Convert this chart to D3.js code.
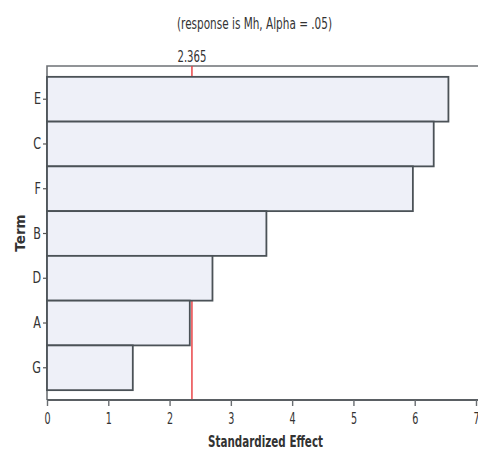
<!DOCTYPE html>
<html><head><meta charset="utf-8">
<script src="https://cdn.jsdelivr.net/npm/d3@7"></script>
<style>
html,body{margin:0;padding:0;background:#fff;}
svg{display:block;}
text{font-family:"DejaVu Sans",Verdana,sans-serif;fill:#333;}
</style></head>
<body>
<svg id="chart" width="478" height="452"></svg>
<script>
const terms = ["E","C","F","B","D","A","G"];
const effects = [6.55, 6.31, 5.97, 3.58, 2.70, 2.33, 1.40];
const xTicks = [0,1,2,3,4,5,6,7];
const critical = 2.365;
const titleText = "(response is Mh, Alpha = .05)";
const xLabel = "Standardized Effect";
const yLabel = "Term";

(function(){
const svg = d3.select("#chart");
const mLeft = 47, mRight = 476, mTop = 66, mBottom = 400;
const sx = 0.6;

const x = d3.scaleLinear().domain([0,7]).range([mLeft,mRight]);
const y = d3.scaleBand().domain(terms).range([mTop+1,mBottom]).paddingInner(0).paddingOuter(0.22);

// frame
svg.append("path")
  .attr("d", `M${mLeft},${mBottom}V${mTop}H${480}`)
  .attr("fill","none").attr("stroke","#6e7276").attr("stroke-width",1.6);

// critical line (under bars)
svg.append("line")
  .attr("x1",x(critical)).attr("x2",x(critical))
  .attr("y1",mTop).attr("y2",mBottom)
  .attr("stroke","#e8383a").attr("stroke-width",1.4);

// bars
svg.append("g").selectAll("rect").data(terms).join("rect")
  .attr("x", x(0))
  .attr("y", d => y(d))
  .attr("width", (d,i) => x(effects[i]) - x(0))
  .attr("height", y.bandwidth())
  .attr("fill","#eef0f8")
  .attr("stroke","#4b5257").attr("stroke-width",1.8);

// bottom axis
const gx = svg.append("g").attr("transform",`translate(0,${mBottom})`)
  .call(d3.axisBottom(x).tickValues(xTicks).tickFormat(d3.format("d")).tickSize(6).tickPadding(6.6));
gx.select(".domain").attr("d",`M${mLeft},0H480`).attr("stroke","#5a5f63").attr("stroke-width",2);
gx.selectAll(".tick line").attr("stroke","#6a6e72").attr("stroke-width",1.4);
gx.selectAll(".tick text").attr("font-size",16).attr("fill","#3a3a3a")
  .attr("font-family","'DejaVu Sans',sans-serif")
  .attr("transform",`scale(${sx},1)`);

// left axis
const gy = svg.append("g").attr("transform",`translate(${mLeft},0)`)
  .call(d3.axisLeft(y).tickSize(4).tickPadding(2));
gy.select(".domain").remove();
gy.selectAll(".tick line").attr("stroke","#555").attr("stroke-width",1.2);
gy.selectAll(".tick text").attr("font-size",16).attr("fill","#3a3a3a")
  .attr("font-family","'DejaVu Sans',sans-serif")
  .attr("x", -6/0.7)
  .attr("transform","scale(0.7,1)");

// critical label
svg.append("text").attr("x",x(critical)).attr("y",62)
  .attr("text-anchor","middle").attr("font-size",16)
  .attr("textLength",29).attr("lengthAdjust","spacingAndGlyphs")
  .text(critical.toFixed(3));

// title
svg.append("text").attr("x",254.5).attr("y",29)
  .attr("text-anchor","middle").attr("font-size",16)
  .attr("textLength",155).attr("lengthAdjust","spacingAndGlyphs")
  .text(titleText);

// x label
svg.append("text").attr("x",265.5).attr("y",447)
  .attr("text-anchor","middle").attr("font-size",16).attr("font-weight","bold")
  .attr("textLength",115).attr("lengthAdjust","spacingAndGlyphs")
  .text(xLabel);

// y label
svg.append("text").attr("transform",`translate(25,${(mTop+mBottom)/2}) rotate(-90)`)
  .attr("text-anchor","middle").attr("font-size",13.5).attr("font-weight","bold")
  .text(yLabel);
})();
</script>
</body></html>
